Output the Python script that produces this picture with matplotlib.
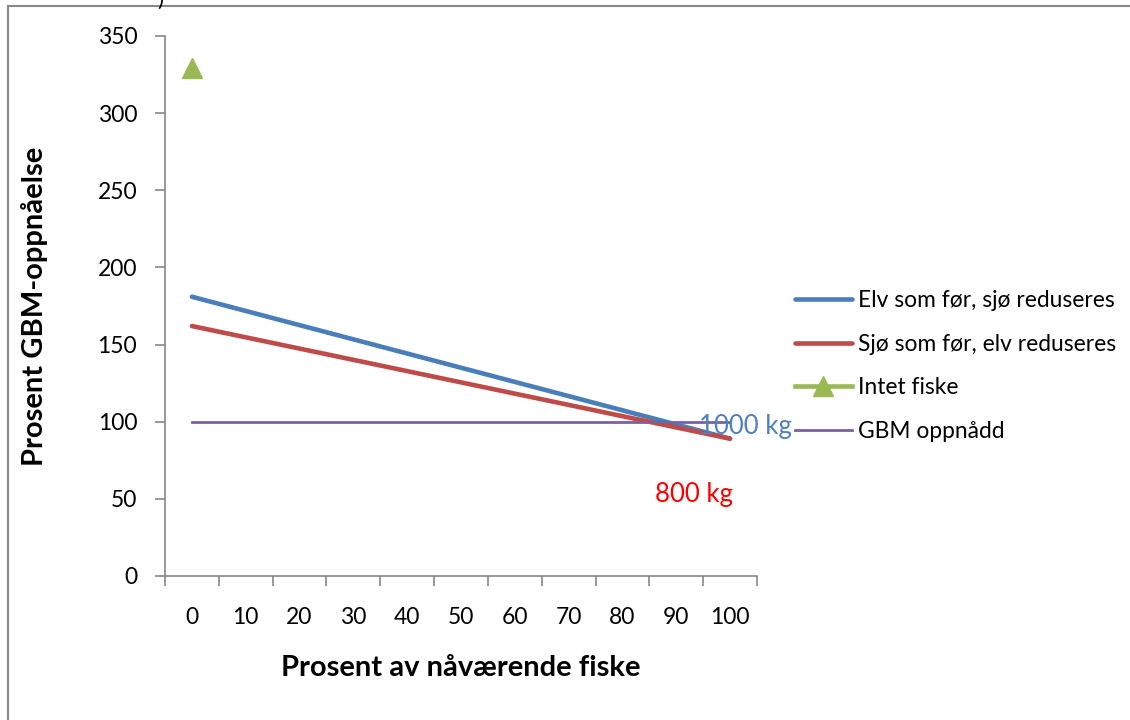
import matplotlib.pyplot as plt
from matplotlib.lines import Line2D

# prosent av nåværende fiske (kategorier)
fiske = [0, 10, 20, 30, 40, 50, 60, 70, 80, 90, 100]
elv_som_for = [181, 171.8, 162.6, 153.4, 144.2, 135, 125.8, 116.6, 107.4, 98.2, 89]
sjo_som_for = [162, 154.7, 147.4, 140.1, 132.8, 125.5, 118.2, 110.9, 103.6, 96.3, 89]
intet_fiske = [329]
gbm_oppnadd = [100, 100, 100, 100, 100, 100, 100, 100, 100, 100, 100]

plt.rcParams['font.family'] = ['Lato', 'DejaVu Sans']

fig = plt.figure(figsize=(11.3, 7.2), dpi=100)
ax = fig.add_axes([165 / 1130, 1 - 576 / 720, (757 - 165) / 1130, (576 - 36) / 720])

pos = list(range(len(fiske)))
ax.plot(pos, elv_som_for, color='#4A7EBB', lw=3.3, solid_capstyle='round',
        label='Elv som før, sjø reduseres')
ax.plot(pos, sjo_som_for, color='#BE4B48', lw=3.3, solid_capstyle='round',
        label='Sjø som før, elv reduseres')
ax.plot(pos[:1], intet_fiske, color='#98B954', lw=3.3, marker='^', markersize=14,
        label='Intet fiske')
ax.plot(pos, gbm_oppnadd, color='#7D60A0', lw=2.0, label='GBM oppnådd')

ax.text(10.28, 97, '1000 kg', color='#4F81BD', fontsize=18.5, ha='center', va='center')
ax.text(9.33, 53, '800 kg', color='#FF0000', fontsize=18.5, ha='center', va='center')

ax.set_xlim(-0.5, len(fiske) - 0.5)
ax.set_ylim(0, 350)
ax.set_yticks(range(0, 351, 50))

# kategoriakse: streker mellom kategoriene, etiketter midt i
ax.set_xticks([p - 0.5 for p in range(len(fiske) + 1)])
ax.set_xticklabels([])
ax.set_xticks(pos, minor=True)
ax.set_xticklabels([str(v) for v in fiske], minor=True)
ax.tick_params(axis='x', which='major', length=7, color='#868686', width=1.2)
ax.tick_params(axis='x', which='minor', length=0, pad=22, labelsize=16.5)
ax.tick_params(axis='y', length=7, color='#868686', width=1.2, pad=13, labelsize=16.5)

for side in ['top', 'right']:
    ax.spines[side].set_visible(False)
for side in ['left', 'bottom']:
    ax.spines[side].set_color('#868686')
    ax.spines[side].set_linewidth(1.2)

ax.set_ylabel('Prosent GBM-oppnåelse', fontsize=21, fontweight='bold')
ax.yaxis.set_label_coords(-0.198, 0.5)
ax.set_xlabel('Prosent av nåværende fiske', fontsize=21, fontweight='bold')
ax.xaxis.set_label_coords(0.5, -0.147)

fig.legend(loc='center left', bbox_to_anchor=(795 / 1130, 1 - 366 / 720),
           frameon=False, fontsize=16.4, handlelength=2.5, handletextpad=0.25,
           labelspacing=1.0, borderpad=0, borderaxespad=0)

# ramme rundt diagrammet
fig.add_artist(Line2D([8 / 1130, 1], [1 - 6 / 720, 1 - 6 / 720], color='#888888', lw=1.5))
fig.add_artist(Line2D([8 / 1130, 8 / 1130], [0, 1 - 6 / 720], color='#888888', lw=1.5))
fig.text(160 / 1130, 1.0, ')', fontsize=16, ha='center', va='center')

fig.savefig('out.png', dpi=100)
